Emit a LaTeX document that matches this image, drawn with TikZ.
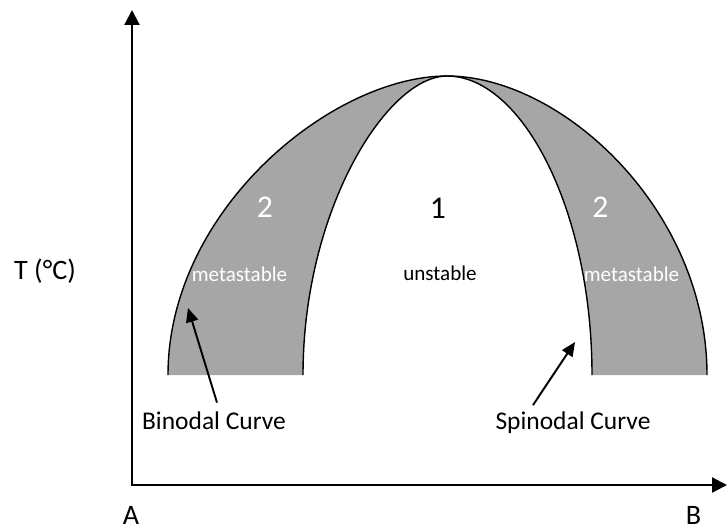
\documentclass[tikz,border=0pt]{standalone}
\usepackage{fontspec}
\setmainfont{Carlito}
\usetikzlibrary{arrows.meta,positioning}
\definecolor{metagray}{HTML}{A6A6A6}

\begin{document}
\begin{tikzpicture}[
  axis/.style={line width=1.3pt, {Triangle[length=8.5pt,width=8.5pt]}-{Triangle[length=8.5pt,width=8.5pt]}},
  curve/.style={line width=0.8pt},
  pointer/.style={line width=1.1pt, -{Triangle[length=8pt,width=7pt]}},
  axislabel/.style={font=\fontsize{16}{19}\selectfont, anchor=base},
  curvelabel/.style={font=\fontsize{14.5}{17}\selectfont, anchor=base},
  region/.style={font=\fontsize{18}{21}\selectfont, anchor=base},
  phase/.style={font=\fontsize{12}{14}\selectfont, anchor=base}
]
\useasboundingbox (-2.64,-0.88) rectangle (11.92,9.7);

% two-phase dome: binodal outside, spinodal inside
\fill[metagray]
  (0.72,2.2) .. controls (0.72,5.5) and (4.0,8.18) .. (6.3,8.18)
  .. controls (8.6,8.18) and (11.5,5.5) .. (11.5,2.2) -- (9.2,2.2)
  .. controls (9.2,5.5) and (7.8,8.18) .. (6.3,8.18)
  .. controls (5.1,8.18) and (3.42,5.5) .. (3.42,2.2) -- cycle;
\draw[curve] (0.72,2.2) .. controls (0.72,5.5) and (4.0,8.18) .. (6.3,8.18)
  .. controls (8.6,8.18) and (11.5,5.5) .. (11.5,2.2);
\draw[curve] (3.42,2.2) .. controls (3.42,5.5) and (5.1,8.18) .. (6.3,8.18)
  .. controls (7.8,8.18) and (9.2,5.5) .. (9.2,2.2);

% axes
\coordinate (origin) at (0,0);
\coordinate (ytip) at (0,9.5);
\coordinate (xtip) at (11.9,0);
\draw[axis] (ytip) -- (origin) -- (xtip);

\node[axislabel] (tlabel) at (-1.74,4.12) {T (°C)};
\node[axislabel] (alabel) at (-0.02,-0.78) {A};
\node[axislabel] (blabel) at (11.23,-0.78) {B};

\node[region] (one) at (6.12,5.34) {1};
\node[region, text=white] (twoleft) at (2.66,5.36) {2};
\node[region, text=white] (tworight) at (9.37,5.36) {2};
\node[phase] (unstable) at (6.16,4.1) {unstable};
\node[phase, text=white] (metaleft) at (2.15,4.08) {metastable};
\node[phase, text=white] (metaright) at (9.99,4.08) {metastable};

\node[curvelabel] (binodal) at (1.64,1.12) {Binodal Curve};
\node[curvelabel] (spinodal) at (8.82,1.12) {Spinodal Curve};

\coordinate (bintip) at (1.12,3.54);
\coordinate (spintip) at (8.86,2.86);
\draw[pointer] ([shift={(0.06,0.05)}]binodal.north) -- (bintip);
\draw[pointer] ([xshift=-0.8cm]spinodal.north) -- (spintip);
\end{tikzpicture}
\end{document}
